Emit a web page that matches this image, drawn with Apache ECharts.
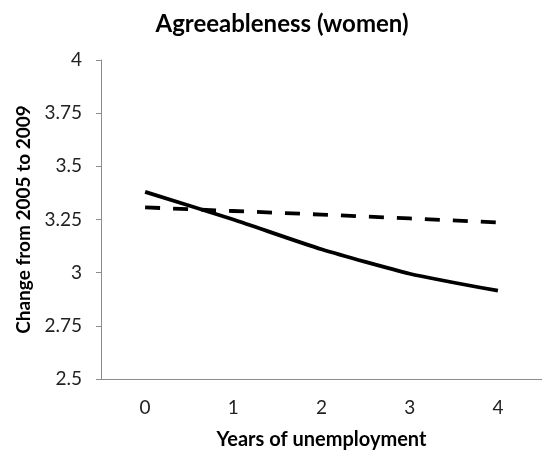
<!DOCTYPE html>
<html><head><meta charset="utf-8">
<script src="https://cdn.jsdelivr.net/npm/echarts@6/dist/echarts.min.js"></script>
<style>html,body{margin:0;padding:0;background:#fff}#c{width:542px;height:457px}</style>
</head><body><div id="c"></div>
<script>
const categories = ['0','1','2','3','4'];
const solidSeries = [3.38, 3.25, 3.11, 2.995, 2.915];
const dashedSeries = [3.307, 3.29, 3.273, 3.255, 3.236];
const yTicks = { min: 2.5, max: 4, interval: 0.25 };
const FONT = 'Lato, "Open Sans", sans-serif';
const chart = echarts.init(document.getElementById('c'));
chart.setOption({
  animation: false,
  backgroundColor: '#fff',
  title: { text: 'Agreeableness (women)', left: 277, textAlign: 'center', top: 7,
    textStyle: { fontFamily: FONT, fontSize: 24, fontWeight: 'bold', color: '#000' } },
  grid: { left: 101, top: 60, width: 445, height: 319, containLabel: false },
  xAxis: { type: 'category', data: categories, boundaryGap: true,
    name: 'Years of unemployment', nameLocation: 'middle', nameGap: 51,
    nameTextStyle: { fontFamily: FONT, fontSize: 20, fontWeight: 'bold', color: '#000' },
    axisLine: { lineStyle: { color: '#8c8c8c', width: 1 } },
    axisTick: { show: false },
    axisLabel: { fontFamily: FONT, fontSize: 19, color: '#222', margin: 19 } },
  yAxis: { type: 'value', min: yTicks.min, max: yTicks.max, interval: yTicks.interval,
    name: 'Change from 2005 to 2009', nameLocation: 'middle', nameGap: 64, nameRotate: 90,
    nameTextStyle: { fontFamily: FONT, fontSize: 19, fontWeight: 'bold', color: '#000' },
    axisLine: { show: true, lineStyle: { color: '#8c8c8c', width: 1 } },
    axisTick: { show: true, length: 5, lineStyle: { color: '#8c8c8c' } },
    splitLine: { show: false },
    axisLabel: { fontFamily: FONT, fontSize: 19, color: '#222', margin: 19,
      formatter: v => String(+v.toFixed(2)) } },
  series: [
    { type: 'line', data: solidSeries, smooth: 0.2, symbol: 'none',
      lineStyle: { color: '#000', width: 3.8 } },
    { type: 'line', data: dashedSeries, smooth: false, symbol: 'none',
      lineStyle: { color: '#000', width: 3.8, type: [15, 13] } }
  ]
});
</script></body></html>
